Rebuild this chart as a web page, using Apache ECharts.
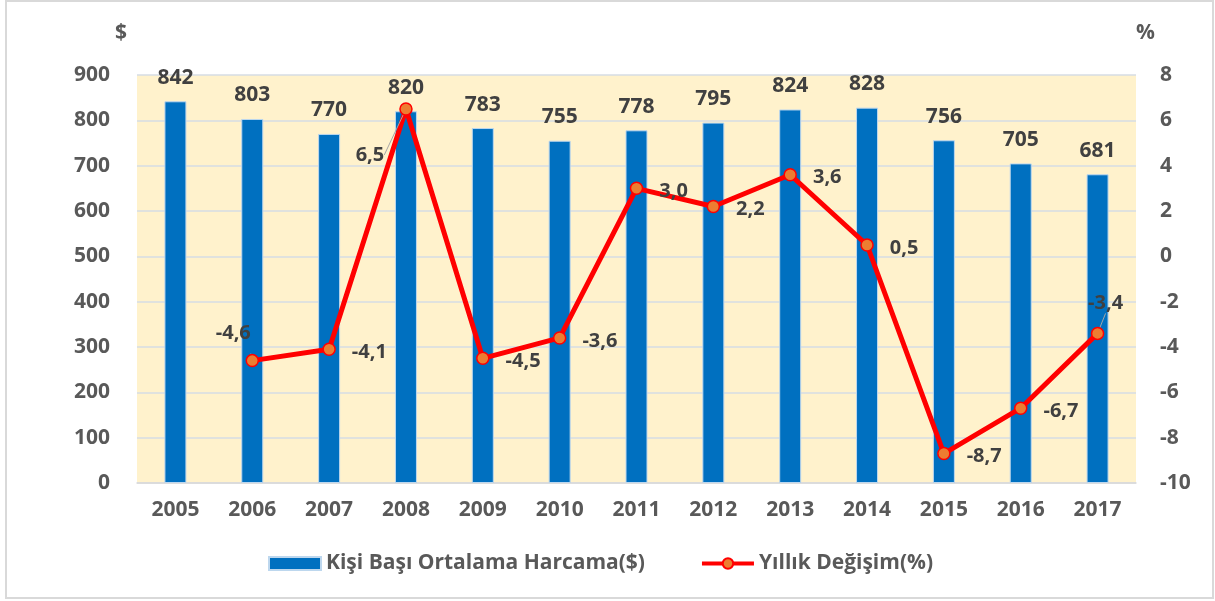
<!DOCTYPE html>
<html>
<head>
<meta charset="utf-8">
<script src="https://cdn.jsdelivr.net/npm/echarts@6/dist/echarts.min.js"></script>
<style>
  html, body { margin: 0; padding: 0; background: #fff; }
  #chart { width: 1215px; height: 601px; }
</style>
</head>
<body>
<div id="chart"></div>
<script>
var years = ['2005', '2006', '2007', '2008', '2009', '2010', '2011', '2012', '2013', '2014', '2015', '2016', '2017'];
var spending = [842, 803, 770, 820, 783, 755, 778, 795, 824, 828, 756, 705, 681];
var change = [null, -4.6, -4.1, 6.5, -4.5, -3.6, 3.0, 2.2, 3.6, 0.5, -8.7, -6.7, -3.4];
var spendingName = 'Kişi Başı Ortalama Harcama($)';
var changeName = 'Yıllık Değişim(%)';

var font = '"Open Sans", "DejaVu Sans", sans-serif';

// labels that sit away from their point, with a leader line
var nudged = { 1: [-19, -27], 3: [-36, 46], 12: [8, -30] };

var lineData = change.map(function (v, i) {
    var item = { value: v };
    if (nudged[i]) {
        item.label = { position: 'inside', offset: nudged[i] };
        item.labelLine = { show: true };
    }
    return item;
});

var chart = echarts.init(document.getElementById('chart'));
var option = {
    backgroundColor: '#fff',
    animation: false,
    textStyle: { fontFamily: font },
    graphic: [{
        type: 'rect',
        shape: { x: 6, y: 1, width: 1207, height: 597 },
        style: { fill: 'none', stroke: '#d9d9d9', lineWidth: 2 },
        silent: true
    }],
    grid: {
        left: 137, right: 79, top: 75, bottom: 118,
        show: true, backgroundColor: '#fff2cc', borderWidth: 0
    },
    legend: {
        left: 263, top: 548,
        itemWidth: 52, itemHeight: 13, itemGap: 55,
        textStyle: { fontFamily: font, fontSize: 21, fontWeight: 'bold', color: '#595959' },
        data: [
            { name: spendingName, icon: 'rect' },
            { name: changeName, lineStyle: { width: 4, color: '#ff0000' } }
        ]
    },
    xAxis: {
        type: 'category',
        data: years,
        axisLine: { show: true, lineStyle: { color: '#d9d9d9', width: 1.5 } },
        axisTick: { show: false },
        axisLabel: { margin: 17, fontFamily: font, fontSize: 21, fontWeight: 'bold', color: '#595959' }
    },
    yAxis: [{
        type: 'value', min: 0, max: 900, interval: 100,
        name: '$', nameLocation: 'end', nameGap: 42,
        nameTextStyle: { align: 'right', verticalAlign: 'middle', padding: [0, 10, 0, 0], fontFamily: font, fontSize: 21, fontWeight: 'bold', color: '#595959' },
        axisLine: { show: false }, axisTick: { show: false },
        axisLabel: { margin: 27, fontFamily: font, fontSize: 21, fontWeight: 'bold', color: '#595959' },
        splitLine: { lineStyle: { color: '#d6dce5', width: 1.5 } }
    }, {
        type: 'value', min: -10, max: 8, interval: 2,
        name: '%', nameLocation: 'end', nameGap: 42,
        nameTextStyle: { align: 'left', verticalAlign: 'middle', fontFamily: font, fontSize: 21, fontWeight: 'bold', color: '#595959' },
        axisLine: { show: false }, axisTick: { show: false },
        axisLabel: { margin: 24, fontFamily: font, fontSize: 21, fontWeight: 'bold', color: '#595959' },
        splitLine: { show: false }
    }],
    series: [{
        name: spendingName,
        type: 'bar',
        data: spending,
        barWidth: 22,
        itemStyle: { color: '#0070c0', borderColor: '#bdd7ee', borderWidth: 1 },
        label: {
            show: true, position: 'top', distance: 13,
            fontFamily: font, fontSize: 21, fontWeight: 'bold', color: '#404040'
        }
    }, {
        name: changeName,
        type: 'line',
        yAxisIndex: 1,
        data: lineData,
        symbol: 'circle',
        symbolSize: 12,
        lineStyle: { color: '#ff0000', width: 5 },
        itemStyle: { color: '#ed7d31', borderColor: '#ff0000', borderWidth: 1.5 },
        label: {
            show: true, position: 'right', distance: 16, offset: [0, 3],
            fontFamily: font, fontSize: 20, fontWeight: 'bold', color: '#404040',
            formatter: function (p) { return p.value.toFixed(1).replace('.', ','); }
        },
        labelLine: { show: false, lineStyle: { color: '#a6a6a6', width: 1 } }
    }]
};
chart.setOption(option);
</script>
</body>
</html>
